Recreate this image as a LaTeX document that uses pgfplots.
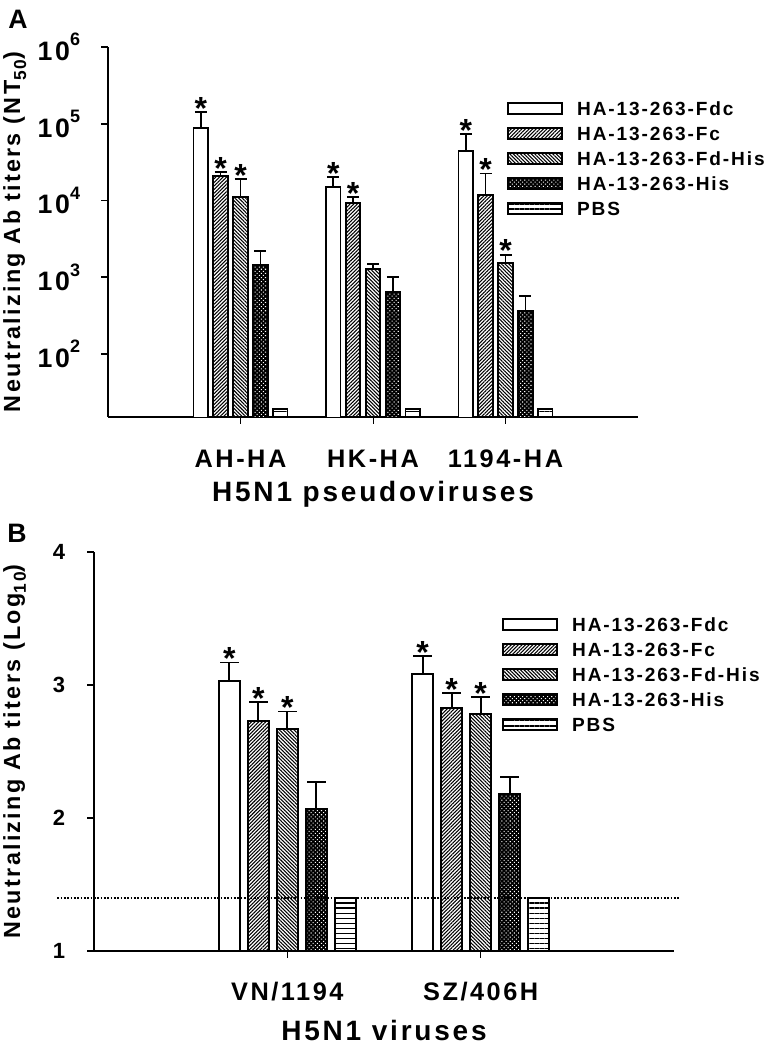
\documentclass[border=0pt]{standalone}
\usepackage{fontspec}
\setmainfont{Liberation Sans}[LetterSpace=10]
\usepackage{pgfplots}
\pgfplotsset{compat=1.18}
\usetikzlibrary{patterns.meta}
\newcommand\tp[1]{10\raisebox{0.55em}{\fontsize{13.5}{13.5}\selectfont #1}}
\pgfplotsset{
  mybar/.style={ybar, bar width=0.11, bar shift=0pt, draw=black, line width=1.4pt,
    legend image code/.code={\draw[##1, line width=1.4pt] (0pt,-4.1pt) rectangle (40.5pt,4.1pt);}},
  err/.style={error bars/.cd, y dir=plus, y explicit, error mark=-,
    error bar style={line width=1.3pt, black, solid},
    error mark options={line width=1.3pt, mark size=#1, black, rotate=90}},
  fdc/.style={fill=white},
  fc/.style={pattern={Lines[angle=45,distance=1.9pt,line width=0.8pt]}, pattern color=black},
  fdhis/.style={pattern={Lines[angle=-45,distance=1.9pt,line width=0.8pt]}, pattern color=black},
  his/.style={fill=black, postaction={pattern={Dots[distance=2.2pt,radius=0.55pt,angle=45]}, pattern color=white}},
  pbs/.style={pattern={Lines[angle=0,distance=3.8pt,line width=1.1pt]}, pattern color=black},
  stars/.style={ybar, bar width=0.11, bar shift=0pt, draw=none, fill=none, forget plot,
    nodes near coords={*},
    every node near coord/.append style={anchor=base, inner sep=0pt, yshift=-5.5pt, font=\fontsize{24}{24}\selectfont\bfseries}},
  common/.style={
    scale only axis, anchor=south west,
    axis x line*=bottom, axis y line*=left,
    axis line style={line width=1.5pt, black},
    tick align=outside, major tick length=5pt,
    xtick style={line width=0.7pt, black},
    ytick style={line width=1.4pt, black},
    xticklabel style={font=\fontsize{19}{19}\selectfont\bfseries, anchor=north, inner sep=0pt},
    yticklabel style={anchor=east, inner sep=0pt},
    ylabel style={anchor=north, inner sep=0pt, font=\fontsize{17.5}{17.5}\selectfont\bfseries},
    xlabel style={at={(axis description cs:0.5,0)}, anchor=north, inner sep=0pt, font=\fontsize{21}{21}\selectfont\bfseries},
    legend cell align=left,
    legend style={anchor=north west, draw=none, fill=none, inner sep=0pt, row sep=8.25pt, column sep=10.5pt,
      font=\fontsize{14.3}{14.3}\selectfont\bfseries,
      nodes={inner sep=0pt, text height=10.5pt, text depth=0pt, font=\fontsize{14.3}{14.3}\selectfont\bfseries}},
  },
}
\begin{document}
\begin{tikzpicture}
\useasboundingbox (0,0) rectangle (575.25pt,783.75pt);
% ---------------- Panel A ----------------
\begin{axis}[common,
  at={(81pt,471pt)}, width=397.5pt, height=277.5pt,
  ymode=log, ymin=15.1, ymax=1e6, xmin=0, xmax=4,
  yminorticks=false,
  xtick={1,2,3}, xticklabels={AH-HA,HK-HA,1194-HA},
  xticklabel style={yshift=-19.5pt},
  ytick={1e2,1e3,1e4,1e5,1e6}, yticklabels={\tp{2},\tp{3},\tp{4},\tp{5},\tp{6}},
  yticklabel style={font=\fontsize{20}{20}\selectfont\bfseries, xshift=-15.75pt},
  ylabel={Neutralizing Ab titers (NT\raisebox{-0.25em}{\fontsize{13}{13}\selectfont 50})},
  ylabel style={at={(axis description cs:-0.198,0.5)}},
  xlabel={H5N1 pseudoviruses},
  xlabel style={yshift=-48pt},
  legend style={at={(axis description cs:0.7528,0.854)}},
]
\addplot[mybar, fdc, err=4.5pt] coordinates {(0.7,87000) +- (0,56000) (1.7,15100) +- (0,5300) (2.7,43800) +- (0,30200)};
\addplot[mybar, fc, err=4.5pt] coordinates {(0.85,20800) +- (0,2900) (1.85,9360) +- (0,1840) (2.85,11900) +- (0,10500)};
\addplot[mybar, fdhis, err=4.5pt] coordinates {(1.0,11000) +- (0,8000) (2.0,1290) +- (0,210) (3.0,1515) +- (0,455)};
\addplot[mybar, his, err=4.5pt] coordinates {(1.15,1440) +- (0,740) (2.15,643) +- (0,373) (3.15,360) +- (0,215)};
\addplot[mybar, pbs] coordinates {(1.3,19) (2.3,19) (3.3,19)};
\addplot[stars] coordinates {(0.7,143000) (0.85,23700) (1.0,19000) (1.7,20400) (1.85,11200) (2.7,74000) (2.85,22400) (3.0,1970)};
\legend{HA-13-263-Fdc,HA-13-263-Fc,HA-13-263-Fd-His,HA-13-263-His,PBS}
\end{axis}
% ---------------- Panel B ----------------
\begin{axis}[common,
  at={(70.5pt,70.5pt)}, width=435pt, height=299.25pt,
  ymin=1, ymax=4, xmin=0, xmax=3,
  xtick={1,2}, xticklabels={VN/1194,SZ/406H},
  xticklabel style={yshift=-18pt},
  ytick={1,2,3,4}, yticklabels={1,2,3,4},
  yticklabel style={font=\fontsize{16.5}{16.5}\selectfont\bfseries, xshift=-16.5pt},
  ylabel={Neutralizing Ab titers (Log\raisebox{-0.25em}{\fontsize{13}{13}\selectfont 10})},
  ylabel style={at={(axis description cs:-0.157,0.5)}},
  xlabel={H5N1 viruses},
  xlabel style={yshift=-51.75pt},
  legend style={at={(axis description cs:0.7034,0.837)}},
]
\addplot[mybar, fdc, err=7pt] coordinates {(0.7,3.03) +- (0,0.14) (1.7,3.08) +- (0,0.14)};
\addplot[mybar, fc, err=7pt] coordinates {(0.85,2.73) +- (0,0.14) (1.85,2.83) +- (0,0.11)};
\addplot[mybar, fdhis, err=7pt] coordinates {(1.0,2.67) +- (0,0.13) (2.0,2.78) +- (0,0.13)};
\addplot[mybar, his, err=7pt] coordinates {(1.15,2.07) +- (0,0.20) (2.15,2.18) +- (0,0.13)};
\addplot[mybar, pbs] coordinates {(1.3,1.40) (2.3,1.40)};
\addplot[stars] coordinates {(0.7,3.17) (0.85,2.87) (1.0,2.80) (1.7,3.22) (1.85,2.94) (2.0,2.91)};
\legend{HA-13-263-Fdc,HA-13-263-Fc,HA-13-263-Fd-His,HA-13-263-His,PBS}
\end{axis}
% dotted detection-limit line (overlay axis, same geometry, unclipped)
\begin{axis}[scale only axis, anchor=south west, at={(70.5pt,70.5pt)}, width=435pt, height=299.25pt,
  ymin=1, ymax=4, xmin=0, xmax=3, axis lines=none, clip=false]
\addplot[black, line width=1.2pt, dash pattern=on 1.2pt off 1.3pt] coordinates {(-0.19,1.4) (3.03,1.4)};
\end{axis}
% panel letters
\node[anchor=north west, inner sep=0pt, font=\fontsize{20}{20}\selectfont\bfseries] at (6pt,776.25pt) {A};
\node[anchor=north west, inner sep=0pt, font=\fontsize{20}{20}\selectfont\bfseries] at (5.25pt,391pt) {B};
\end{tikzpicture}
\end{document}
